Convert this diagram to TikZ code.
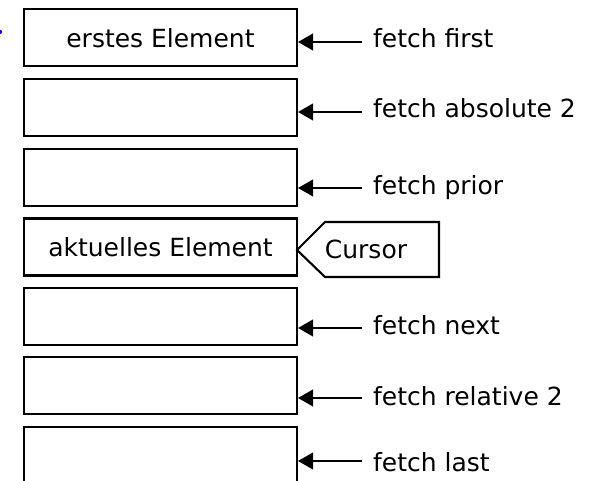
\documentclass[tikz,border=0pt]{standalone}
\usepackage{fontspec}
\setmainfont{DejaVu Sans}
\usetikzlibrary{arrows.meta}
\tikzset{
         elem/.style={draw,line width=2pt,minimum width=9.1cm,minimum height=1.9cm,inner sep=0pt},
         fetchlbl/.style={anchor=base west,inner sep=0pt},
         fetcharrow/.style={line width=1.5pt,-{Triangle[length=.5cm,width=.56cm]}}
        }
\begin{document}
\begin{tikzpicture}[font=\fontsize{23.7}{28}\selectfont]
\useasboundingbox(0,0)rectangle(20.1,16.033);
\fill[blue](0,14.97)circle(.07);
%result set
\node[elem](e1)at(5.35,14.77){erstes Element};
\node[elem](e2)at(5.35,12.45){};
\node[elem](e3)at(5.35,10.13){};
\node[elem](e4)at(5.35,7.8){aktuelles Element};
\node[elem](e5)at(5.35,5.49){};
\node[elem](e6)at(5.35,3.17){};
\node[elem](e7)at(5.35,.85){};
%cursor
\draw[line width=2pt](9.9,7.7)--(10.833,8.633)--(14.633,8.633)--(14.633,6.8)--(10.833,6.8)--cycle;
\node(cur)at(12.2,7.72){Cursor};
%fetch variants
\coordinate(a1)at(12.07,14.633);
\coordinate(a2)at(12.07,12.3);
\coordinate(a3)at(12.07,9.767);
\coordinate(a5)at(12.07,5.1);
\coordinate(a6)at(12.07,2.767);
\coordinate(a7)at(12.07,.667);
\node[fetchlbl](f1)at(12.43,14.433){fetch first};
\node[fetchlbl](f2)at(12.43,12.1){fetch absolute 2};
\node[fetchlbl](f3)at(12.43,9.533){fetch prior};
\node[fetchlbl](f5)at(12.43,4.867){fetch next};
\node[fetchlbl](f6)at(12.43,2.533){fetch relative 2};
\node[fetchlbl](f7)at(12.43,.3){fetch last};
\draw[fetcharrow](a1)--(e1.east|-a1);
\draw[fetcharrow](a2)--(e2.east|-a2);
\draw[fetcharrow](a3)--(e3.east|-a3);
\draw[fetcharrow](a5)--(e5.east|-a5);
\draw[fetcharrow](a6)--(e6.east|-a6);
\draw[fetcharrow](a7)--(e7.east|-a7);
\end{tikzpicture}
\end{document}
